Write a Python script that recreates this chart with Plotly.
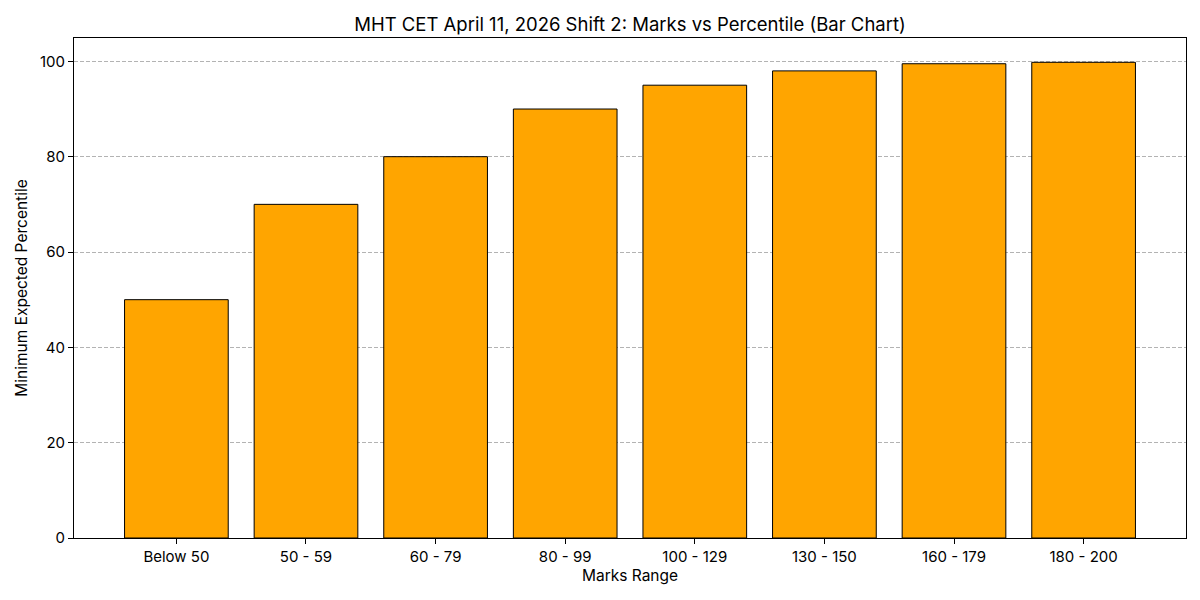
import plotly.graph_objects as go

marks_ranges = ["Below 50", "50 - 59", "60 - 79", "80 - 99", "100 - 129",
                "130 - 150", "160 - 179", "180 - 200"]
percentiles = [50, 70, 80, 90, 95, 98, 99.5, 99.8]

fig = go.Figure(
    go.Bar(
        x=list(range(len(marks_ranges))),
        y=percentiles,
        width=0.8,
        marker=dict(color="#FFA500", line=dict(color="black", width=1)),
    )
)

# page body adds an 8px margin, so the figure is a bit smaller than the window
fig.update_layout(
    width=1184,
    height=584,
    plot_bgcolor="white",
    paper_bgcolor="white",
    font=dict(family="Inter, Roboto, sans-serif", size=15, color="black"),
    margin=dict(l=66, r=6, t=30, b=54),
    title=dict(text="MHT CET April 11, 2026 Shift 2: Marks vs Percentile (Bar Chart)",
               x=0.5, xanchor="center", xref="paper", y=0.972, yanchor="middle",
               font=dict(size=18.5)),
    showlegend=False,
)

fig.update_xaxes(
    tickmode="array",
    tickvals=list(range(len(marks_ranges))),
    ticktext=marks_ranges,
    range=[-0.79, len(marks_ranges) - 0.21],
    showline=True, linecolor="black", linewidth=1, mirror=True,
    ticks="outside", ticklen=5, tickcolor="black",
    showgrid=False,
    title=dict(text="Marks Range", font=dict(size=15.5), standoff=4),
)

fig.update_yaxes(
    range=[0, 104.9],
    tickvals=[0, 20, 40, 60, 80, 100],
    showline=True, linecolor="black", linewidth=1, mirror=True,
    ticks="outside", ticklen=5, tickcolor="black",
    showgrid=True, gridcolor="rgba(160,160,160,0.8)", griddash="4px,2px", gridwidth=1,
    zeroline=False,
    title=dict(text="Minimum Expected Percentile", font=dict(size=15.5), standoff=8),
)

fig.write_html("out.html")
